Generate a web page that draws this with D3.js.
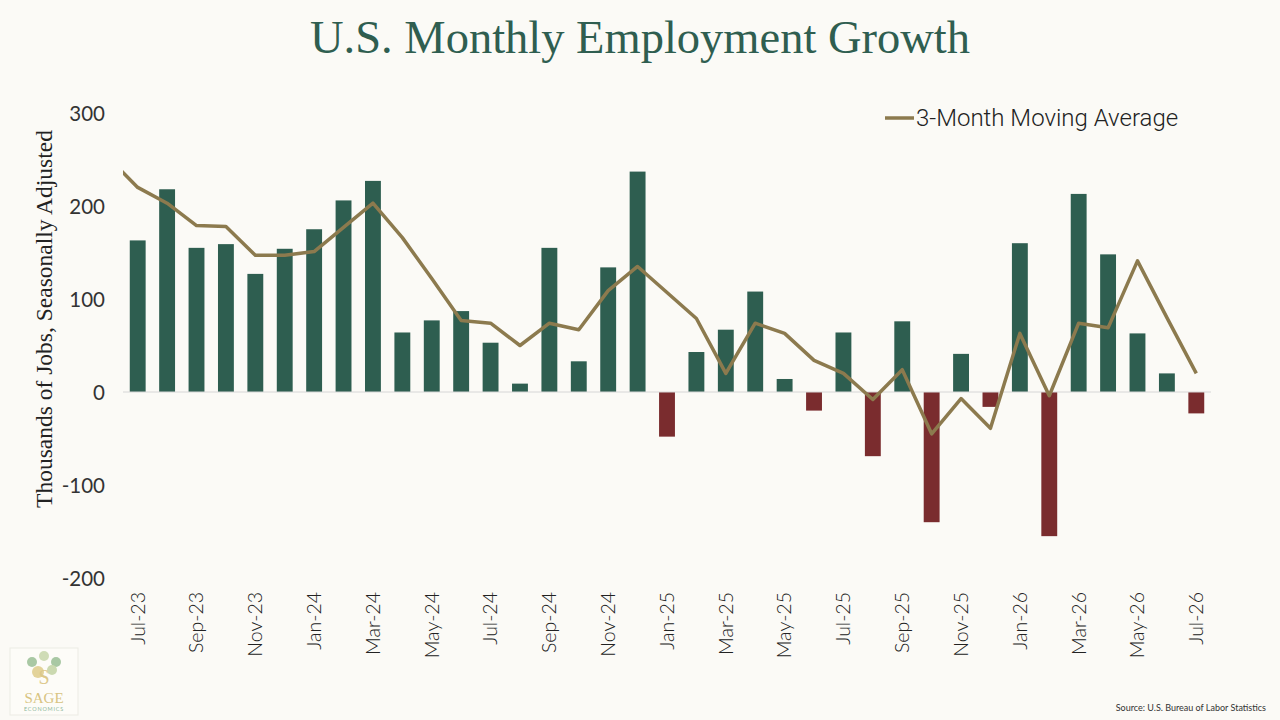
<!DOCTYPE html>
<html>
<head>
<meta charset="utf-8">
<script src="https://cdn.jsdelivr.net/npm/d3@7"></script>
<style>
  body { margin: 0; background: #fbfaf6; }
  svg { display: block; }
</style>
</head>
<body>
<div class="chart"></div>
<script>
// months shown as bars (Jul-23 .. Jul-26)
const months = ["Jul-23","Aug-23","Sep-23","Oct-23","Nov-23","Dec-23","Jan-24","Feb-24","Mar-24","Apr-24","May-24","Jun-24",
  "Jul-24","Aug-24","Sep-24","Oct-24","Nov-24","Dec-24","Jan-25","Feb-25","Mar-25","Apr-25","May-25","Jun-25",
  "Jul-25","Aug-25","Sep-25","Oct-25","Nov-25","Dec-25","Jan-26","Feb-26","Mar-26","Apr-26","May-26","Jun-26","Jul-26"];
// monthly change, thousands of jobs
const jobs = [163, 218, 155, 159, 127, 154, 175, 206, 227, 64, 77, 87,
  53, 9, 155, 33, 134, 237, -48, 43, 67, 108, 14, -20,
  64, -69, 76, -140, 41, -16, 160, -155, 213, 148, 63, 20, -23];
// 3-month moving average; first entry is Jun-23 (cut off at the left edge)
const maMonths = ["Jun-23"].concat(months);
const movingAvg = [252, 220, 203, 179, 178, 147, 147, 151, 177, 203, 166, 122, 77,
  74, 50, 74, 67, 109, 135, 107, 79, 20, 74, 63, 34,
  20, -8, 24, -45, -7, -39, 63, -4, 74, 69, 141, 80, 20];
const yTicks = [-200, -100, 0, 100, 200, 300];

const W = 1280, H = 720;
const plot = {left: 123, right: 1211, top: 113, bottom: 578};

const svg = d3.select(".chart").append("svg")
    .attr("width", W)
    .attr("height", H);

svg.append("rect").attr("width", W).attr("height", H).attr("fill", "#fbfaf6");

const xScale = d3.scaleBand()
    .domain(months)
    .range([plot.left, plot.right])
    .paddingInner(0.46)
    .paddingOuter(0.23);
const step = xScale.step();
const xCenter = m => m === "Jun-23"
    ? xScale("Jul-23") + xScale.bandwidth() / 2 - step
    : xScale(m) + xScale.bandwidth() / 2;

const yScale = d3.scaleLinear()
    .domain([-200, 300])
    .range([plot.bottom, plot.top]);

// title
svg.append("text")
    .attr("x", 640).attr("y", 53)
    .attr("text-anchor", "middle")
    .attr("font-family", "Liberation Serif, serif")
    .attr("font-size", 46.5)
    .attr("fill", "#2f5e50")
    .text("U.S. Monthly Employment Growth");

// y axis labels
const yAxis = d3.axisLeft(yScale)
    .tickValues(yTicks)
    .tickFormat(d => String(d))
    .tickSize(0).tickPadding(0);
const gy = svg.append("g")
    .attr("class", "axis y-axis")
    .attr("transform", "translate(105,0)")
    .call(yAxis);
gy.select(".domain").remove();
gy.selectAll("text")
    .attr("font-family", "Lato, sans-serif")
    .attr("font-size", 20.5)
    .attr("fill", "#333")
    .attr("dy", "0.35em");

svg.append("text")
    .attr("transform", "translate(52,319) rotate(-90)")
    .attr("text-anchor", "middle")
    .attr("font-family", "Liberation Serif, serif")
    .attr("font-size", 23.5)
    .attr("fill", "#222")
    .text("Thousands of Jobs, Seasonally Adjusted");

// bars
svg.selectAll(".bar")
    .data(months)
    .enter()
    .append("rect")
    .attr("class", "bar")
    .attr("x", m => xScale(m))
    .attr("width", xScale.bandwidth())
    .attr("y", (m, i) => yScale(Math.max(0, jobs[i])))
    .attr("height", (m, i) => Math.abs(yScale(jobs[i]) - yScale(0)))
    .attr("fill", (m, i) => jobs[i] >= 0 ? "#2e5e50" : "#7a2c2e");

// zero line
svg.append("line")
    .attr("x1", plot.left).attr("x2", plot.right)
    .attr("y1", yScale(0)).attr("y2", yScale(0))
    .attr("stroke", "#d6d6d6")
    .attr("stroke-width", 1);

// moving average line (clipped to plot area)
svg.append("clipPath").attr("id", "plotclip")
    .append("rect")
    .attr("x", plot.left).attr("y", 0)
    .attr("width", plot.right - plot.left).attr("height", H);

const line = d3.line()
    .x((v, i) => xCenter(maMonths[i]))
    .y(v => yScale(v));
svg.append("path")
    .datum(movingAvg)
    .attr("clip-path", "url(#plotclip)")
    .attr("d", line)
    .attr("fill", "none")
    .attr("stroke", "#8c7a4e")
    .attr("stroke-width", 3.5)
    .attr("stroke-linejoin", "round");

// x axis labels (every other month)
const xAxis = d3.axisBottom(xScale)
    .tickValues(months.filter((m, i) => i % 2 === 0))
    .tickSize(0);
const gx = svg.append("g")
    .attr("class", "axis x-axis")
    .attr("transform", "translate(0,592)")
    .call(xAxis);
gx.select(".domain").remove();
gx.selectAll("text")
    .attr("transform", "rotate(-90)")
    .attr("text-anchor", "end")
    .attr("x", 0).attr("y", 0)
    .attr("dy", "0.35em")
    .attr("font-family", "Lato, sans-serif")
    .attr("font-weight", 300)
    .attr("font-size", 19.5)
    .attr("fill", "#222");

// legend
svg.append("line")
    .attr("x1", 885).attr("x2", 914)
    .attr("y1", 118).attr("y2", 118)
    .attr("stroke", "#8c7a4e").attr("stroke-width", 3.5);
svg.append("text")
    .attr("x", 916).attr("y", 126)
    .attr("font-family", "Roboto, sans-serif")
    .attr("font-weight", 300)
    .attr("font-size", 24)
    .attr("fill", "#222")
    .text("3-Month Moving Average");

// source
svg.append("text")
    .attr("x", 1266).attr("y", 711)
    .attr("text-anchor", "end")
    .attr("font-family", "Lato, sans-serif")
    .attr("font-size", 9)
    .attr("fill", "#333")
    .text("Source: U.S. Bureau of Labor Statistics");

// logo
const logo = svg.append("g").attr("transform", "translate(10,648)");
logo.append("rect").attr("width", 68).attr("height", 67)
    .attr("fill", "#fdfcf8").attr("stroke", "#ecebe4");
[[22, 14, 5, "#a9c8a4"], [34, 8, 5, "#cfdcb6"], [46, 14, 5, "#a9c8a4"], [28, 24, 6, "#e3d39a"], [42, 22, 5, "#cbd9b0"]]
  .forEach(c => logo.append("circle").attr("cx", c[0]).attr("cy", c[1]).attr("r", c[2]).attr("fill", c[3]));
logo.append("text").attr("x", 34).attr("y", 36).attr("text-anchor", "middle")
    .attr("font-family", "Liberation Serif, serif").attr("font-size", 20)
    .attr("fill", "#dcc88a").text("S");
logo.append("text").attr("x", 34).attr("y", 55).attr("text-anchor", "middle")
    .attr("font-family", "Liberation Serif, serif").attr("font-size", 15)
    .attr("fill", "#d8c482").text("SAGE");
logo.append("text").attr("x", 34).attr("y", 63).attr("text-anchor", "middle")
    .attr("font-family", "Lato, sans-serif").attr("font-size", 5.5)
    .attr("letter-spacing", 0.8)
    .attr("fill", "#8fb89a").text("ECONOMICS");
</script>
</body>
</html>
